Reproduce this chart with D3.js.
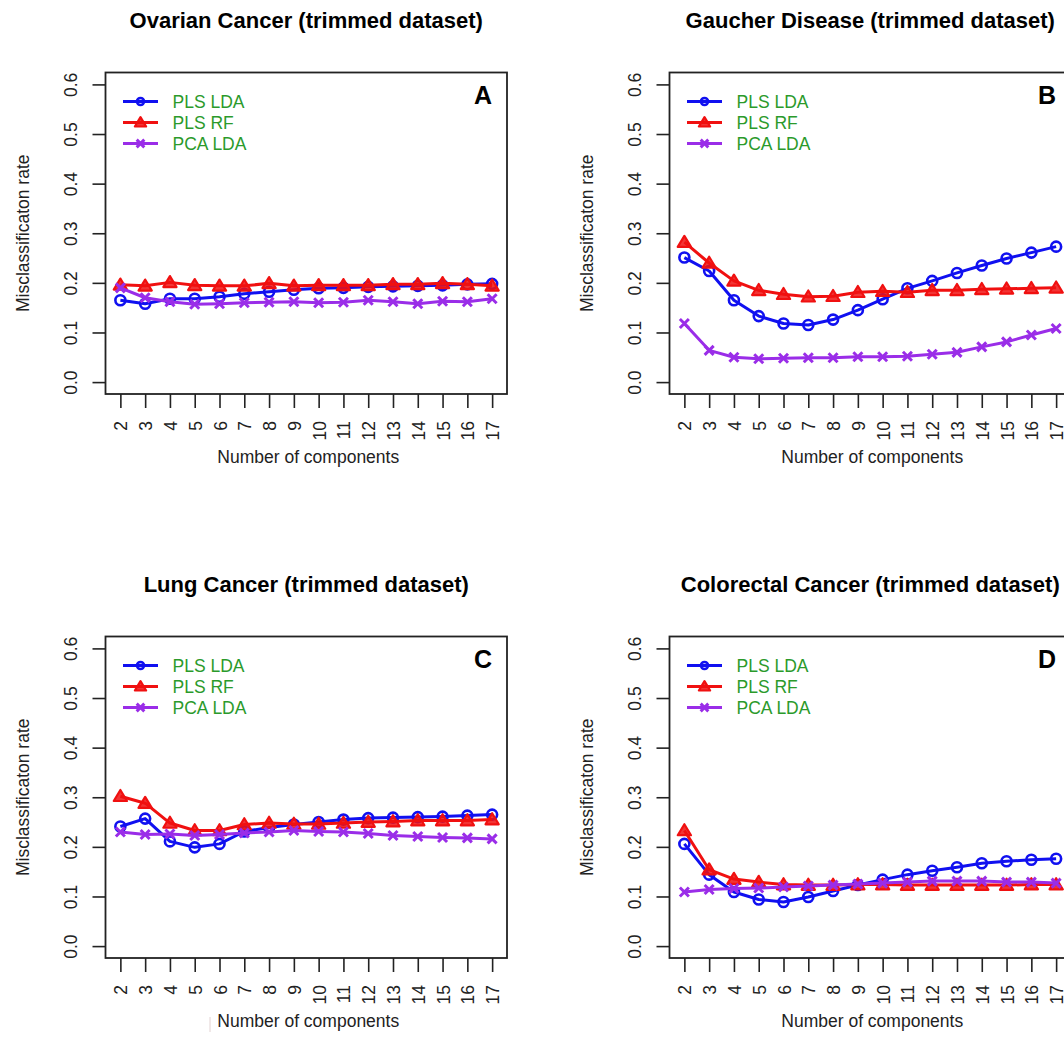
<!DOCTYPE html>
<html>
<head>
<meta charset="utf-8">
<script src="https://cdn.jsdelivr.net/npm/d3@7"></script>
<style>
  body { margin: 0; background: #fff; }
</style>
</head>
<body>
<svg id="chart"></svg>
<script>
// Data
const components = [2, 3, 4, 5, 6, 7, 8, 9, 10, 11, 12, 13, 14, 15, 16, 17];
const yTicks = [0.0, 0.1, 0.2, 0.3, 0.4, 0.5, 0.6];
const seriesNames = ["PLS LDA", "PLS RF", "PCA LDA"];
const panelTitles = [
  "Ovarian Cancer (trimmed dataset)",
  "Gaucher Disease (trimmed dataset)",
  "Lung Cancer (trimmed dataset)",
  "Colorectal Cancer (trimmed dataset)"
];
const panelLetters = ["A", "B", "C", "D"];

const ovarianPlsLda = [0.165, 0.158, 0.168, 0.168, 0.172, 0.178, 0.182, 0.186, 0.189, 0.190, 0.192, 0.193, 0.194, 0.195, 0.197, 0.198];
const ovarianPlsRf  = [0.196, 0.194, 0.201, 0.195, 0.194, 0.194, 0.199, 0.194, 0.195, 0.195, 0.195, 0.197, 0.197, 0.199, 0.197, 0.194];
const ovarianPcaLda = [0.190, 0.170, 0.162, 0.157, 0.158, 0.160, 0.161, 0.162, 0.160, 0.161, 0.165, 0.162, 0.158, 0.163, 0.162, 0.168];

const gaucherPlsLda = [0.251, 0.224, 0.165, 0.133, 0.118, 0.115, 0.126, 0.145, 0.167, 0.189, 0.204, 0.220, 0.235, 0.249, 0.261, 0.273];
const gaucherPlsRf  = [0.282, 0.240, 0.204, 0.185, 0.177, 0.172, 0.173, 0.181, 0.183, 0.181, 0.185, 0.185, 0.187, 0.188, 0.189, 0.190];
const gaucherPcaLda = [0.118, 0.064, 0.050, 0.047, 0.048, 0.049, 0.049, 0.051, 0.051, 0.052, 0.056, 0.060, 0.071, 0.081, 0.095, 0.108];

const lungPlsLda = [0.241, 0.257, 0.211, 0.199, 0.206, 0.231, 0.239, 0.245, 0.250, 0.255, 0.258, 0.259, 0.260, 0.261, 0.263, 0.265];
const lungPlsRf  = [0.302, 0.288, 0.248, 0.233, 0.233, 0.245, 0.248, 0.246, 0.246, 0.248, 0.250, 0.251, 0.253, 0.253, 0.253, 0.255];
const lungPcaLda = [0.230, 0.225, 0.226, 0.223, 0.225, 0.228, 0.230, 0.233, 0.231, 0.230, 0.227, 0.223, 0.221, 0.219, 0.218, 0.216];

const colorectalPlsLda = [0.206, 0.144, 0.109, 0.094, 0.089, 0.099, 0.111, 0.123, 0.134, 0.144, 0.152, 0.159, 0.167, 0.171, 0.174, 0.176];
const colorectalPlsRf  = [0.233, 0.154, 0.135, 0.129, 0.124, 0.123, 0.123, 0.124, 0.124, 0.123, 0.123, 0.123, 0.123, 0.123, 0.124, 0.124];
const colorectalPcaLda = [0.109, 0.114, 0.116, 0.117, 0.119, 0.121, 0.123, 0.125, 0.127, 0.129, 0.131, 0.131, 0.131, 0.129, 0.129, 0.127];

const panels = [
  [ovarianPlsLda, ovarianPlsRf, ovarianPcaLda],
  [gaucherPlsLda, gaucherPlsRf, gaucherPcaLda],
  [lungPlsLda, lungPlsRf, lungPcaLda],
  [colorectalPlsLda, colorectalPlsRf, colorectalPcaLda]
];

// Chart setup
const width = 1064;
const height = 1039;
const fontFamily = "Liberation Sans, Arial, Helvetica, sans-serif";
const colors = ["#1010f0", "#f01010", "#9a2de8"];
const markers = ["circle", "triangle", "cross"];
const legendColor = "#2b9a2b";
const step = 564; // panel offset, both directions

const svg = d3
  .select("#chart")
  .attr("width", width)
  .attr("height", height)
  .style("font-family", fontFamily);

// scales shared by all panels (panel groups are translated)
const x = d3.scaleLinear().domain([1.4, 17.6]).range([105.5, 507]);
const y = d3.scaleLinear().domain([-0.024, 0.624]).range([394, 72.5]);

function drawMarker(g, type, cx, cy, color, size) {
  if (type === "circle") {
    g.append("circle")
      .attr("cx", cx)
      .attr("cy", cy)
      .attr("r", 5 * size)
      .attr("fill", "none")
      .attr("stroke", color)
      .attr("stroke-width", 2.6);
  } else if (type === "triangle") {
    const s = 6.3 * size;
    g.append("path")
      .attr("d", `M${cx},${cy - s}L${cx + s * 1.05},${cy + s * 0.75}L${cx - s * 1.05},${cy + s * 0.75}Z`)
      .attr("fill", color)
      .attr("fill-opacity", 0.85)
      .attr("stroke", color)
      .attr("stroke-width", 2.2)
      .attr("stroke-linejoin", "round");
  } else {
    const s = 4.5 * size;
    g.append("path")
      .attr("d", `M${cx - s},${cy - s}L${cx + s},${cy + s}M${cx - s},${cy + s}L${cx + s},${cy - s}`)
      .attr("stroke", color)
      .attr("stroke-width", 3)
      .attr("fill", "none");
  }
}

const line = d3
  .line()
  .x((d, i) => x(components[i]))
  .y((d) => y(d));

panels.forEach((series, p) => {
  const g = svg
    .append("g")
    .attr("transform", `translate(${(p % 2) * step},${Math.floor(p / 2) * step})`);

  // title
  g.append("text")
    .attr("x", (x.range()[0] + x.range()[1]) / 2)
    .attr("y", 28)
    .attr("text-anchor", "middle")
    .style("font-size", "22px")
    .style("font-weight", "bold")
    .text(panelTitles[p]);

  // y axis
  const yAxis = g
    .append("g")
    .attr("transform", `translate(${x.range()[0]},0)`)
    .call(d3.axisLeft(y).tickValues(yTicks).tickSize(13).tickFormat(d3.format(".1f")));
  yAxis.select(".domain").remove();
  yAxis.selectAll(".tick line").attr("stroke", "#222").attr("stroke-width", 1.6);
  yAxis
    .selectAll(".tick text")
    .attr("x", null)
    .attr("dy", null)
    .attr("text-anchor", "middle")
    .attr("transform", "translate(-29,0) rotate(-90)")
    .attr("fill", "#222")
    .style("font-size", "17.5px");

  // x axis
  const xAxis = g
    .append("g")
    .attr("transform", `translate(0,${y.range()[0]})`)
    .call(d3.axisBottom(x).tickValues(components).tickSize(14).tickFormat(d3.format("d")));
  xAxis.select(".domain").remove();
  xAxis.selectAll(".tick line").attr("stroke", "#222").attr("stroke-width", 1.6);
  xAxis
    .selectAll(".tick text")
    .attr("y", null)
    .attr("dy", null)
    .attr("text-anchor", "end")
    .attr("transform", "translate(6.5,27) rotate(-90)")
    .attr("fill", "#222")
    .style("font-size", "17.5px");

  // axis labels
  g.append("text")
    .attr("x", (x.range()[0] + x.range()[1]) / 2 + 2)
    .attr("y", 463)
    .attr("text-anchor", "middle")
    .style("font-size", "17.5px")
    .attr("fill", "#222")
    .text("Number of components");

  g.append("text")
    .attr("transform", `translate(29,${(y.range()[0] + y.range()[1]) / 2}) rotate(-90)`)
    .attr("text-anchor", "middle")
    .style("font-size", "17.5px")
    .attr("fill", "#222")
    .text("Misclassificaton rate");

  // series lines and markers
  series.forEach((values, s) => {
    g.append("path")
      .datum(values)
      .attr("fill", "none")
      .attr("stroke", colors[s])
      .attr("stroke-width", 3)
      .attr("stroke-linejoin", "round")
      .attr("d", line);
    values.forEach((v, i) => drawMarker(g, markers[s], x(components[i]), y(v), colors[s], 1));
  });

  // box
  g.append("rect")
    .attr("x", x.range()[0])
    .attr("y", y.range()[1])
    .attr("width", x.range()[1] - x.range()[0])
    .attr("height", y.range()[0] - y.range()[1])
    .attr("fill", "none")
    .attr("stroke", "#222")
    .attr("stroke-width", 1.8);

  // panel letter
  g.append("text")
    .attr("x", 483)
    .attr("y", 103.5)
    .attr("text-anchor", "middle")
    .style("font-size", "25px")
    .style("font-weight", "bold")
    .text(panelLetters[p]);

  // legend
  const legend = g.append("g");
  seriesNames.forEach((name, s) => {
    const ly = 101.5 + s * 21;
    legend
      .append("line")
      .attr("x1", 123)
      .attr("x2", 158)
      .attr("y1", ly)
      .attr("y2", ly)
      .attr("stroke", colors[s])
      .attr("stroke-width", 3);
    drawMarker(legend, markers[s], 140.5, ly, colors[s], s === 0 ? 0.7 : 0.85);
    legend
      .append("text")
      .attr("x", 172.5)
      .attr("y", ly + 6.3)
      .style("font-size", "17.5px")
      .attr("fill", legendColor)
      .text(name);
  });
});

// faint scan mark left of the bottom-left axis label
svg
  .append("line")
  .attr("x1", 210)
  .attr("x2", 210)
  .attr("y1", 1017)
  .attr("y2", 1032)
  .attr("stroke", "#e2d2d2")
  .attr("stroke-width", 1);
</script>
</body>
</html>
